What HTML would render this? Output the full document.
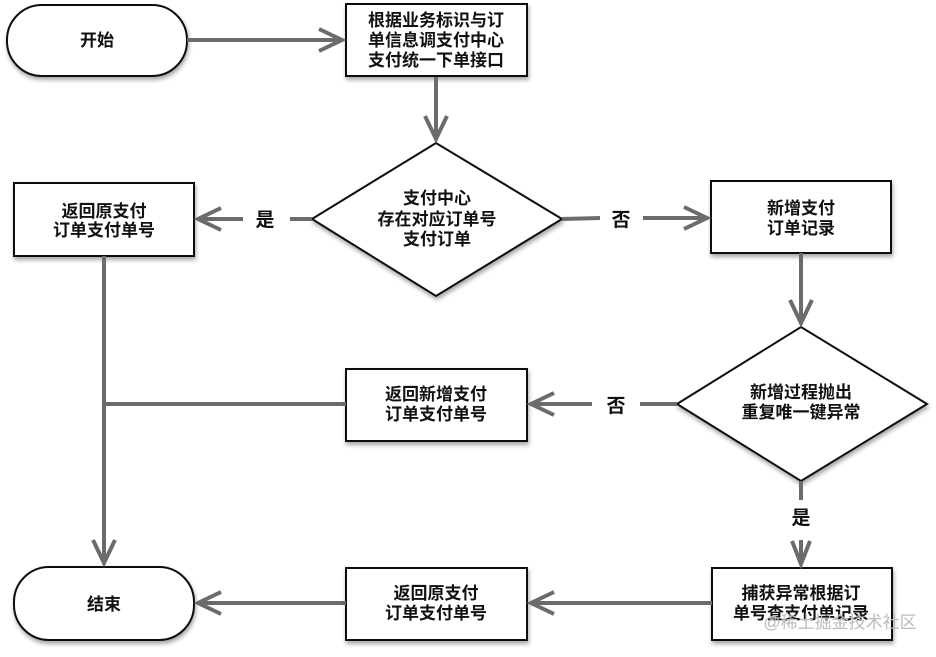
<!DOCTYPE html>
<html><head><meta charset="utf-8"><style>
html,body{margin:0;padding:0;background:#fff;}
svg text{font-family:"Liberation Sans","Noto Sans CJK SC",sans-serif;font-size:17px;font-weight:bold;fill:#111;text-anchor:middle;}
</style></head><body>
<svg width="936" height="652" viewBox="0 0 936 652" xmlns="http://www.w3.org/2000/svg">
<defs>
<filter id="sh" x="-10%" y="-10%" width="130%" height="140%"><feDropShadow dx="1" dy="3" stdDeviation="2" flood-color="#000" flood-opacity="0.35"/></filter>
</defs>
<g fill="#fff" stroke="#111" stroke-width="2" filter="url(#sh)">
<rect x="7" y="5" width="180" height="71" rx="35"/>
<rect x="346" y="4" width="181" height="72"/>
<polygon points="312,219 436,143 562,219 436,296"/>
<rect x="14" y="183" width="180" height="73"/>
<rect x="711" y="181" width="180" height="72"/>
<polygon points="677,404 801,327 927,404 801,481"/>
<rect x="346" y="369" width="181" height="72"/>
<rect x="712" y="568" width="180" height="72"/>
<rect x="346" y="568" width="181" height="72"/>
<rect x="14" y="567" width="180" height="73" rx="35"/>
</g>
<g stroke="#6b6b6b" stroke-width="4" fill="none">
<line x1="187" y1="40" x2="342" y2="40"/><polyline points="319,29 342,40 319,51"/>
<line x1="436" y1="77" x2="436" y2="139"/><polyline points="425,116 436,139 447,116"/>
<line x1="312" y1="219" x2="290" y2="219"/>
<line x1="243" y1="219" x2="198" y2="219"/><polyline points="221,208 198,219 221,230"/>
<line x1="562" y1="219" x2="600" y2="218"/>
<line x1="643" y1="218" x2="707" y2="218"/><polyline points="684,207 707,218 684,229"/>
<line x1="801" y1="253" x2="801" y2="323"/><polyline points="790,300 801,323 812,300"/>
<line x1="677" y1="404" x2="640" y2="404"/>
<line x1="592" y1="404" x2="531" y2="404"/><polyline points="554,393 531,404 554,415"/>
<line x1="801" y1="481" x2="801" y2="500"/>
<line x1="801" y1="540" x2="801" y2="564"/><polyline points="792,541 801,564 810,541"/>
<line x1="712" y1="603" x2="531" y2="603"/><polyline points="554,592 531,603 554,614"/>
<line x1="346" y1="603" x2="198" y2="603"/><polyline points="221,592 198,603 221,614"/>
<line x1="104" y1="256" x2="104" y2="563"/><polyline points="93,540 104,563 115,540"/>
<line x1="104" y1="404" x2="346" y2="404"/>
</g>
<text x="97" y="46">开始</text>
<text x="436" y="26">根据业务标识与订</text>
<text x="436" y="46">单信息调支付中心</text>
<text x="436" y="66">支付统一下单接口</text>
<text x="437" y="204">支付中心</text>
<text x="437" y="225">存在对应订单号</text>
<text x="437" y="245">支付订单</text>
<text x="104" y="217">返回原支付</text>
<text x="104" y="236">订单支付单号</text>
<text x="265" y="226" style="font-size:19px">是</text>
<text x="621" y="226" style="font-size:19px">否</text>
<text x="801" y="214">新增支付</text>
<text x="801" y="234">订单记录</text>
<text x="801" y="398">新增过程抛出</text>
<text x="801" y="418">重复唯一键异常</text>
<text x="436" y="400">返回新增支付</text>
<text x="436" y="420">订单支付单号</text>
<text x="616" y="412" style="font-size:19px">否</text>
<text x="801" y="524" style="font-size:19px">是</text>
<text x="801" y="599">捕获异常根据订</text>
<text x="801" y="619">单号查支付单记录</text>
<text x="436" y="599">返回原支付</text>
<text x="436" y="619">订单支付单号</text>
<text x="104" y="610">结束</text>
<text x="840" y="628" style="font-size:17px;font-weight:normal;fill:#bbb;">@稀土掘金技术社区</text>
</svg>
</body></html>
